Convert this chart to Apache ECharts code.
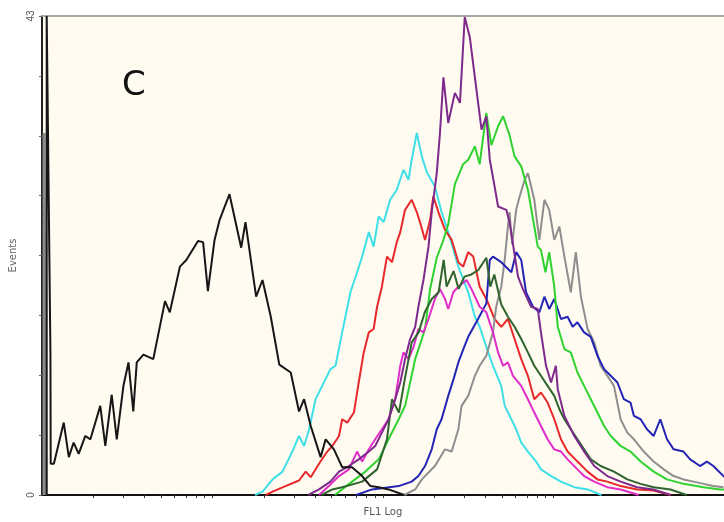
<!DOCTYPE html>
<html>
<head>
<meta charset="utf-8">
<script src="https://cdn.jsdelivr.net/npm/echarts@6/dist/echarts.min.js"></script>
<style>
  html, body { margin: 0; padding: 0; background: #fff; }
  #chart { width: 724px; height: 522px; }
</style>
</head>
<body>
<div id="chart"></div>
<script>
// FL1 histogram overlay, x in channels (0..256 over 4 log decades), y in events
const yMax = 43
const channelMax = 256
// log-scale tick values shown under the x axis
const fl1Ticks = [2, 3, 4, 5, 6, 7, 8, 9, 10, 20, 30, 40, 50, 60, 70, 80, 90, 100,
  200, 300, 400, 500, 600, 700, 800, 900, 1000]

const spikeGray = [[0.8, 0], [0.8, 32.5], [1.4, 32.5], [1.4, 0]]
const black = [[1.8, 0], [1.8, 43], [3.2, 12.8], [3.3, 2.8], [4.5, 2.8], [8.2, 6.5], [10.1, 3.4], [11.9, 4.7],
  [13.8, 3.7], [16.3, 5.3], [18.2, 5.0], [21.9, 8.0], [23.8, 4.4], [26.2, 9.0], [28.1, 5.0], [30.6, 9.8],
  [32.5, 11.9], [34.3, 7.5], [35.6, 11.9], [38.1, 12.6], [41.8, 12.2], [46.2, 17.4], [48.0, 16.4],
  [51.8, 20.5], [54.2, 21.1], [58.6, 22.8], [60.5, 22.7], [62.3, 18.3], [64.8, 22.9], [66.7, 24.7],
  [70.4, 27.0], [74.8, 22.2], [76.4, 24.5], [80.4, 17.8], [82.8, 19.3], [85.9, 16.0], [89.1, 11.7],
  [93.4, 11.0], [96.5, 7.5], [98.4, 8.6], [100.9, 6.2], [104.6, 3.4], [106.5, 5.0], [109.6, 4.1],
  [112.7, 2.5], [116.4, 2.5], [120.2, 1.7], [123.3, 0.8], [126.4, 0.7], [130.1, 0.5], [136, 0]]
const cyan = [[80, 0], [82.8, 0.3], [86.6, 1.4], [90.3, 2.1], [94.0, 3.9], [96.5, 5.3], [98.4, 4.4],
  [100.3, 5.9], [102.7, 8.6], [105.2, 9.8], [108.3, 11.3], [110.2, 11.6], [112.7, 14.6], [115.8, 18.2],
  [118.3, 20.0], [120.2, 21.4], [122.7, 23.6], [124.5, 22.3], [126.4, 25.0], [128.3, 24.5], [130.7, 26.5],
  [133.2, 27.4], [135.7, 29.2], [137.6, 28.3], [138.8, 30.1], [140.7, 32.5], [142.6, 30.4], [144.4, 29.0],
  [147.5, 27.7], [150.0, 25.4], [152.5, 23.6], [156.3, 20.5], [160.0, 18.2], [162.5, 16.0], [164.3, 15.1],
  [167.5, 12.8], [169.3, 11.6], [172.4, 9.8], [173.7, 8.0], [176.2, 6.8], [178.0, 5.9], [179.9, 4.7],
  [182.4, 3.9], [185.5, 3.0], [187.3, 2.3], [191.1, 1.7], [194.8, 1.2], [199.8, 0.7], [204.8, 0.5], [210, 0]]
const red = [[84, 0], [86.6, 0.3], [91.4, 0.8], [96.5, 1.3], [99.0, 2.1], [100.9, 1.6], [104.0, 2.8],
  [107.1, 3.9], [109.0, 4.4], [111.5, 5.3], [112.7, 6.8], [114.6, 6.5], [117.1, 7.4], [118.9, 10.1],
  [120.8, 12.8], [122.7, 14.6], [124.5, 14.9], [125.8, 16.9], [127.6, 18.7], [129.5, 21.4], [131.4, 20.9],
  [133.2, 22.7], [134.5, 23.6], [136.3, 25.6], [138.8, 26.5], [140.7, 25.4], [141.9, 24.5], [143.8, 22.9],
  [145.7, 24.7], [146.9, 26.8], [148.8, 25.4], [151.3, 23.8], [153.8, 22.9], [156.3, 20.9], [158.1, 20.5],
  [160.0, 21.8], [161.9, 21.4], [164.3, 18.7], [166.8, 17.6], [169.9, 15.8], [172.4, 15.1], [174.9, 15.8],
  [177.4, 14.0], [179.9, 12.2], [182.4, 10.7], [184.8, 8.6], [187.3, 9.2], [189.8, 8.3], [192.3, 6.8],
  [194.8, 5.0], [197.3, 3.9], [201.0, 3.0], [204.8, 2.1], [208.5, 1.4], [212.2, 1.2], [217.2, 0.8],
  [223.4, 0.5], [229.5, 0.4], [236, 0]]
const purple = [[100, 0], [104.0, 0.5], [108.3, 1.2], [111.5, 2.1], [115.2, 2.6], [118.9, 3.2], [122.7, 3.9],
  [125.1, 4.4], [127.6, 5.6], [130.1, 6.8], [132.6, 8.6], [134.5, 10.1], [136.3, 12.2], [138.2, 14.0],
  [140.1, 15.1], [141.3, 16.9], [143.2, 19.3], [145.1, 22.3], [146.3, 25.4], [148.2, 28.9], [149.4, 32.5],
  [150.7, 37.5], [152.5, 33.4], [155.0, 36.1], [156.9, 35.2], [158.7, 42.9], [160.6, 41.1], [162.5, 37.5],
  [165.0, 32.8], [166.8, 34.0], [168.1, 30.1], [169.9, 27.7], [171.2, 25.9], [174.3, 25.6], [175.5, 24.5],
  [178.7, 19.6], [180.5, 18.5], [183.6, 16.9], [186.1, 16.7], [187.3, 14.6], [189.2, 11.6], [191.1, 10.1],
  [192.9, 11.6], [193.6, 9.5], [196.1, 7.1], [199.8, 5.3], [203.5, 3.9], [207.3, 2.6], [212.2, 1.7],
  [217.2, 1.2], [223.4, 0.7], [229.5, 0.5], [236, 0]]
const magenta = [[104, 0], [107.7, 0.8], [111.5, 1.7], [115.2, 2.3], [118.3, 3.9], [120.2, 3.0], [122.7, 4.1],
  [125.1, 5.0], [127.6, 5.9], [130.1, 6.8], [132.6, 8.6], [134.5, 11.6], [135.7, 12.8], [137.6, 12.2],
  [139.5, 13.3], [141.3, 14.9], [143.2, 14.6], [145.1, 15.8], [147.5, 17.6], [149.4, 18.5], [151.3, 17.6],
  [152.5, 16.7], [154.4, 18.2], [156.3, 18.7], [159.4, 19.3], [161.2, 18.5], [164.3, 16.9], [166.8, 16.4],
  [169.3, 14.6], [171.2, 12.8], [173.1, 11.6], [174.9, 11.9], [176.8, 10.7], [179.9, 9.8], [182.4, 8.6],
  [184.8, 7.4], [187.3, 6.2], [189.8, 5.0], [192.3, 4.1], [194.8, 3.9], [197.3, 3.2], [201.0, 2.3],
  [203.5, 1.7], [207.3, 1.2], [212.2, 0.7], [217.2, 0.5], [224, 0]]
const darkGreen = [[105, 0], [109.0, 0.5], [112.7, 0.7], [120.2, 1.2], [125.8, 2.3], [129.5, 5.0], [131.4, 8.6],
  [134.0, 7.4], [136.2, 10.4], [138.8, 13.7], [141.4, 14.6], [143.7, 16.4], [146.3, 17.6], [148.9, 18.2],
  [150.8, 21.1], [151.9, 18.7], [154.5, 20.1], [156.4, 18.5], [158.6, 19.6], [161.2, 19.8], [163.8, 20.2],
  [166.8, 21.3], [168.3, 18.7], [169.8, 19.8], [172.4, 17.1], [174.9, 16.0], [177.4, 15.1], [179.9, 14.0],
  [182.4, 12.8], [184.8, 11.6], [187.3, 10.7], [189.8, 9.8], [192.3, 8.9], [194.2, 7.7], [196.1, 6.8],
  [198.5, 5.9], [201.0, 5.0], [203.5, 4.1], [206.0, 3.2], [209.7, 2.6], [214.7, 2.1], [219.7, 1.4],
  [224.7, 1.0], [229.6, 0.7], [235.9, 0.5], [242, 0]]
const green = [[110, 0], [116.4, 1.2], [121.4, 2.1], [126.4, 3.2], [130.1, 5.0], [133.9, 6.8], [136.3, 8.0],
  [138.2, 10.1], [140.1, 12.2], [141.9, 13.5], [143.8, 14.9], [145.7, 18.5], [148.2, 21.3], [150.7, 22.9],
  [152.5, 24.3], [155.0, 27.9], [158.1, 29.7], [160.0, 30.1], [162.5, 31.3], [164.3, 29.7], [166.8, 34.3],
  [168.7, 31.4], [171.2, 33.1], [173.1, 34.0], [175.5, 32.3], [177.4, 30.4], [179.9, 29.5], [182.4, 27.4],
  [184.8, 24.1], [186.1, 22.3], [187.3, 22.0], [189.0, 20.0], [190.4, 21.8], [192.3, 18.7], [193.6, 15.1],
  [196.1, 13.1], [198.5, 12.8], [201.0, 11.0], [203.5, 9.8], [206.0, 8.6], [208.5, 7.4], [211.0, 6.2],
  [213.5, 5.3], [217.2, 4.4], [220.9, 3.9], [224.7, 3.0], [229.6, 2.1], [234.6, 1.4], [240.8, 1.0],
  [248.3, 0.7], [254.5, 0.5], [256, 0.5]]
const blue = [[118, 0], [123.9, 0.5], [133.9, 0.8], [138.8, 1.2], [141.3, 1.7], [143.8, 2.6], [146.3, 4.1],
  [148.2, 5.9], [150.0, 6.8], [152.5, 8.9], [154.5, 10.4], [156.3, 11.9], [158.5, 13.3], [160.0, 14.2],
  [163.7, 15.8], [166.8, 17.2], [168.1, 21.1], [169.3, 21.4], [172.4, 20.9], [176.2, 20.0], [178.0, 21.8],
  [179.9, 21.1], [181.7, 18.2], [184.3, 16.9], [186.7, 16.4], [188.6, 17.8], [190.4, 16.7], [192.3, 17.6],
  [194.8, 15.8], [197.3, 16.0], [199.2, 15.1], [201.0, 15.5], [203.5, 14.6], [206.0, 14.2], [208.5, 12.5],
  [211.0, 11.3], [213.5, 10.7], [216.0, 10.1], [218.4, 8.6], [220.9, 8.3], [222.2, 7.1], [224.7, 6.8],
  [227.1, 5.9], [229.6, 5.3], [232.1, 6.8], [234.6, 5.0], [237.1, 4.1], [240.8, 3.9], [243.3, 3.2],
  [247.0, 2.6], [249.6, 3.0], [252.0, 2.6], [255.8, 1.7], [256, 1.6]]
const gray = [[136, 0], [140.1, 0.5], [142.6, 1.4], [147.5, 2.6], [151.3, 4.1], [153.8, 3.9], [156.3, 5.9],
  [157.5, 8.0], [160.0, 8.9], [162.5, 10.7], [164.3, 11.6], [166.8, 12.5], [169.3, 14.6], [170.5, 16.9],
  [172.4, 18.7], [173.7, 21.1], [174.9, 24.1], [175.5, 25.4], [176.5, 22.5], [178.0, 25.6], [179.3, 26.8],
  [181.2, 28.3], [182.4, 28.9], [184.8, 26.5], [186.7, 22.9], [188.6, 26.5], [190.4, 25.6], [192.3, 22.9],
  [194.2, 24.1], [196.1, 21.4], [198.5, 18.2], [200.4, 21.8], [202.3, 17.8], [204.8, 14.9], [207.3, 13.7],
  [209.7, 11.6], [212.2, 10.7], [214.7, 9.8], [217.2, 6.8], [219.7, 5.6], [222.2, 5.0], [225.9, 3.9],
  [229.6, 3.0], [233.4, 2.3], [237.1, 1.7], [240.8, 1.4], [244.6, 1.2], [248.3, 1.0], [252.0, 0.8], [255.8, 0.7]]

const chartDom = document.getElementById('chart')
const myChart = echarts.init(chartDom)

// 4 decades across 256 channels
const tickChannels = fl1Ticks.map(v => Math.log10(v) * channelMax / 4)

const line = (data, color, width) => ({
  type: 'line',
  data: data,
  showSymbol: false,
  symbol: 'none',
  animation: false,
  lineStyle: { color: color, width: width || 2 },
  z: 3
})

const option = {
  backgroundColor: '#ffffff',
  title: {
    text: 'C',
    left: 117,
    top: 64,
    textStyle: { fontSize: 34, fontWeight: 'normal', color: '#111', fontFamily: 'DejaVu Sans' }
  },
  grid: {
    left: 38, right: 0, top: 16, bottom: 26,
    show: true, backgroundColor: '#fffbf1', borderWidth: 0
  },
  xAxis: [
    {
      type: 'value',
      min: 0,
      max: channelMax,
      name: 'FL1 Log',
      nameLocation: 'middle',
      nameGap: 12,
      nameTextStyle: { fontSize: 10, color: '#555', fontFamily: 'DejaVu Sans' },
      axisLine: { show: true, lineStyle: { color: '#111', width: 2 } },
      axisTick: { show: true, customValues: tickChannels, length: 3, lineStyle: { color: '#333' } },
      axisLabel: { show: false },
      splitLine: { show: false }
    },
    {
      type: 'value',
      position: 'top',
      min: 0,
      max: channelMax,
      axisLine: { show: true, lineStyle: { color: '#a8a8a8', width: 2 } },
      axisTick: { show: false },
      axisLabel: { show: false },
      splitLine: { show: false }
    }
  ],
  yAxis: {
    type: 'value',
    min: 0,
    max: yMax,
    interval: yMax / 8,
    name: 'Events',
    nameLocation: 'middle',
    nameGap: 18,
    nameRotate: 90,
    nameTextStyle: { fontSize: 10, color: '#666', fontFamily: 'DejaVu Sans' },
    axisLine: { show: true, lineStyle: { color: '#222', width: 2 } },
    axisTick: { show: true, length: 3, lineStyle: { color: '#666' } },
    axisLabel: {
      rotate: 90,
      fontSize: 10,
      color: '#555',
      margin: 6,
      formatter: v => (v === 0 || v === yMax) ? String(v) : ''
    },
    splitLine: { show: false }
  },
  series: [
    line(spikeGray, '#8a8a8a', 3),
    line(cyan, '#3ee0e6'),
    line(red, '#e8282a'),
    line(gray, '#8e8e8e'),
    line(blue, '#2424b4'),
    line(green, '#2fd22f'),
    line(magenta, '#e02cc8'),
    line(darkGreen, '#2f642f'),
    line(purple, '#7e2a8c'),
    line(black, '#161616')
  ]
}

option && myChart.setOption(option)
</script>
</body>
</html>
